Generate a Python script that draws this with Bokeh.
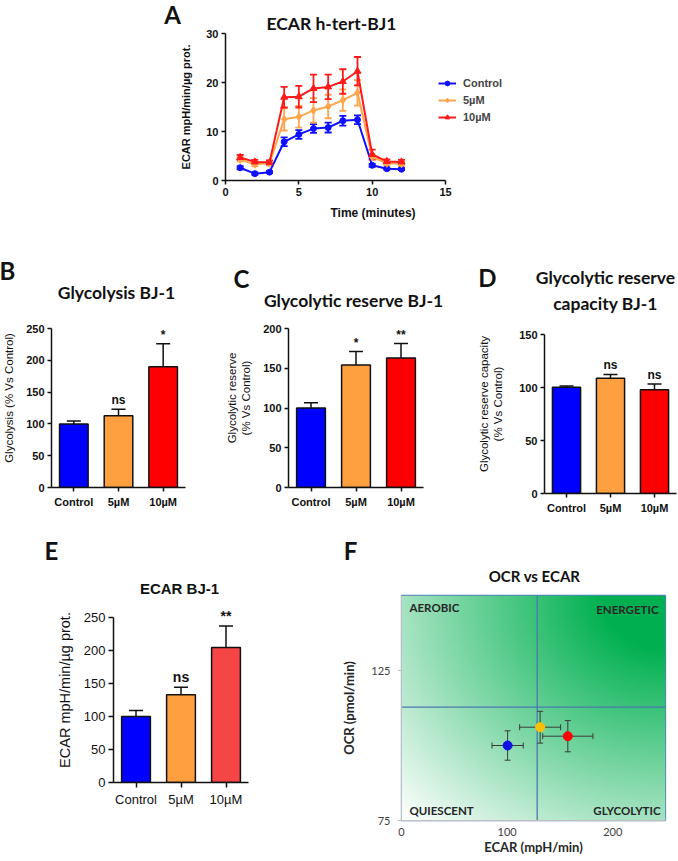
import numpy as np
from bokeh.plotting import figure
from bokeh.models import (Range1d, FactorRange, ColumnDataSource, Whisker, TeeHead,
                          Label, Legend, LegendItem, Span, FixedTicker)
from bokeh.layouts import column, row
from bokeh.embed import file_html
from bokeh.resources import INLINE
from bokeh.core.properties import value

# ---------------- data ----------------
groups = ["Control", "5µM", "10µM"]

# Panel A: ECAR time course (mpH/min/µg prot.)
time_min = [1, 2, 3, 4, 5, 6, 7, 8, 9, 10, 11, 12]
ecar_ctrl = [2.6, 1.4, 1.7, 7.9, 9.4, 10.6, 10.8, 12.2, 12.4, 3.1, 2.4, 2.3]
ecar_ctrl_err = [0.3, 0.2, 0.2, 0.9, 0.9, 0.9, 1.0, 1.0, 0.9, 0.3, 0.2, 0.2]
ecar_5um = [4.3, 3.3, 3.5, 12.5, 13.0, 14.3, 15.1, 16.4, 17.9, 4.8, 3.5, 3.4]
ecar_5um_err = [0.4, 0.4, 0.4, 2.3, 2.2, 2.5, 2.4, 2.2, 2.6, 0.6, 0.4, 0.4]
ecar_10um = [4.7, 3.8, 3.7, 17.0, 17.1, 18.8, 19.1, 20.2, 22.3, 5.3, 3.9, 3.8]
ecar_10um_err = [0.5, 0.4, 0.4, 2.1, 2.2, 2.8, 2.5, 2.5, 2.9, 1.0, 0.4, 0.4]

# Panel B: Glycolysis (% vs control)
glycolysis = [100, 113, 190]
glycolysis_err = [4.5, 10, 36]
glycolysis_sig = ["", "ns", "*"]

# Panel C: Glycolytic reserve (% vs control)
reserve = [100, 154, 163]
reserve_err = [6.5, 17, 18]
reserve_sig = ["", "*", "**"]

# Panel D: Glycolytic reserve capacity (% vs control)
capacity = [100.3, 108.8, 97.8]
capacity_err = [1.0, 3.5, 5.5]
capacity_sig = ["", "ns", "ns"]

# Panel E: ECAR BJ-1
ecar_bar = [100, 133, 204.5]
ecar_bar_err = [9, 11.5, 32.5]
ecar_bar_sig = ["", "ns", "**"]

# Panel F: OCR vs ECAR
f_ecar = [100.5, 131.3, 157.5]
f_ecar_err = [14.8, 19.4, 23.8]
f_ocr = [100.0, 106.1, 103.1]
f_ocr_err = [4.9, 5.3, 5.2]
f_ecar_split = 128.5
f_ocr_split = 112.8

# ---------------- styling ----------------
BAR_COLORS = ["#0000ff", "#ffa040", "#ff0000"]
E_COLORS = ["#0000ff", "#ff9f3f", "#f54545"]
LINE_COLORS = ["#1010ff", "#ffa64d", "#ff1a1a"]
F_COLORS = ["#1010e0", "#ffc000", "#ff0000"]
ARIAL = "Liberation Sans"
CAL = "Lato"
PAGE_W, PAGE_H = 678, 861


def make_fig(w, h, l, r, t, b, xr, yr, **kw):
    p = figure(width=w, height=h, x_range=xr, y_range=yr, output_backend="svg",
               toolbar_location=None, min_border_left=l, min_border_right=r,
               min_border_top=t, min_border_bottom=b, **kw)
    p.outline_line_color = None
    p.grid.visible = False
    p.background_fill_color = None
    p.border_fill_color = None
    return p


def style_axis(ax, font=ARIAL, size="11px", fstyle="bold", color="#111111",
               line_color="#111111", lw=1.5, tick_out=4, standoff=3,
               label_font=ARIAL, label_size="11px", label_style="normal",
               label_standoff=5):
    ax.axis_line_color = line_color
    ax.axis_line_width = lw
    ax.major_tick_line_color = line_color
    ax.major_tick_line_width = lw
    ax.major_tick_in = 0
    ax.major_tick_out = tick_out
    ax.minor_tick_line_color = None
    ax.major_label_text_font = font
    ax.major_label_text_font_size = size
    ax.major_label_text_font_style = fstyle
    ax.major_label_text_color = color
    ax.major_label_standoff = standoff
    ax.axis_label_text_font = label_font
    ax.axis_label_text_font_size = label_size
    ax.axis_label_text_font_style = label_style
    ax.axis_label_text_color = color
    ax.axis_label_standoff = label_standoff


# ---------------- Panel A ----------------
A_X = (225, 445, 520)   # px of x=0, x=15, frame right (room for legend)
A_Y = (33, 180)         # px of y=30 and y=0
a_xmax = 15
a_xend = a_xmax * (A_X[2] - A_X[0]) / (A_X[1] - A_X[0])
pA = make_fig(PAGE_W, 232, A_X[0], PAGE_W - A_X[2], A_Y[0], 232 - A_Y[1],
              Range1d(0, a_xend), Range1d(0, 30))
pA.xaxis.ticker = FixedTicker(ticks=[0, 5, 10, 15])
pA.xaxis.bounds = (0, a_xmax)
pA.yaxis.ticker = FixedTicker(ticks=[0, 10, 20, 30])
pA.xaxis.axis_label = "Time (minutes)"
pA.yaxis.axis_label = "ECAR mpH/min/µg prot."
style_axis(pA.xaxis[0], label_style="bold", label_size="12px", label_standoff=7)
style_axis(pA.yaxis[0], label_style="bold", label_size="11px", label_standoff=11)

series = [(groups[0], ecar_ctrl, ecar_ctrl_err, LINE_COLORS[0], "circle", 6),
          (groups[1], ecar_5um, ecar_5um_err, LINE_COLORS[1], "diamond", 8),
          (groups[2], ecar_10um, ecar_10um_err, LINE_COLORS[2], "triangle", 7)]
items = []
for name, vals, errs, col, mk, sz in series:
    src = ColumnDataSource(dict(t=time_min, v=vals,
                                lo=[a - e for a, e in zip(vals, errs)],
                                hi=[a + e for a, e in zip(vals, errs)]))
    pA.add_layout(Whisker(source=src, base="t", lower="lo", upper="hi",
                          line_color=col, line_width=1.8,
                          upper_head=TeeHead(size=7, line_color=col, line_width=1.8),
                          lower_head=TeeHead(size=7, line_color=col, line_width=1.8)))
    ln = pA.line("t", "v", source=src, line_color=col, line_width=2)
    sc = pA.scatter("t", "v", source=src, marker=mk, size=sz, fill_color=col, line_color=col)
    items.append(LegendItem(label=name, renderers=[ln, sc]))

legA = Legend(items=items, location=(213, 57), label_text_font=ARIAL,
              label_text_font_style="bold", label_text_font_size="11px",
              glyph_width=18, glyph_height=12, spacing=5, padding=0, margin=0,
              border_line_color=None, background_fill_alpha=0, label_standoff=7,
              label_height=12)
pA.add_layout(legA)


# ---------------- bar panels ----------------
def bar_panel(w, h, x0, x1, ytop_px, y0_px, ext, ymax, step, vals, errs, sigs,
              colors, ylabel, tick_size="11px", tick_style="bold", tick_out=4,
              label_size="11.5px", label_standoff=6, sig_size="12px"):
    # x0,x1: frame left/right px; ytop_px/y0_px: px of ymax and 0; ext: extra px above
    k = (y0_px - ytop_px) / ymax
    p = make_fig(w, h, x0, w - x1, ytop_px - ext, h - y0_px,
                 FactorRange(factors=groups), Range1d(0, ymax + ext / k))
    p.yaxis.ticker = FixedTicker(ticks=list(range(0, ymax + 1, step)))
    p.yaxis.bounds = (0, ymax)
    p.yaxis.axis_label = ylabel
    style_axis(p.xaxis[0], size=tick_size, fstyle=tick_style, standoff=4, tick_out=tick_out)
    style_axis(p.yaxis[0], size=tick_size, fstyle=tick_style, tick_out=tick_out,
               label_size=label_size, label_standoff=label_standoff)
    src = ColumnDataSource(dict(g=groups, v=vals,
                                hi=[a + e for a, e in zip(vals, errs)],
                                c=colors, s=sigs))
    p.add_layout(Whisker(source=src, base="g", lower="v", upper="hi",
                         line_color="#111111", line_width=1.5, lower_head=None,
                         upper_head=TeeHead(size=14, line_color="#111111", line_width=1.5)))
    p.vbar(x="g", top="v", width=0.64, source=src, fill_color="c",
           line_color="#111111", line_width=1.5)
    p.text(x="g", y="hi", text="s", source=src, text_align="center",
           text_baseline="bottom", y_offset=-2, text_font=value(ARIAL),
           text_font_style="bold", text_font_size=sig_size, text_color="#111111")
    return p


# row 2 spans y 232..522 (local coords = page - 232)
pB = bar_panel(215, 290, 50, 185, 96, 255, 20, 250, 50, glycolysis, glycolysis_err,
               glycolysis_sig, BAR_COLORS, "Glycolysis (% Vs Control)", label_standoff=8)
pC = bar_panel(225, 290, 73, 208, 96, 255, 20, 200, 50, reserve, reserve_err,
               reserve_sig, BAR_COLORS, "Glycolytic reserve\n(% Vs Control)",
               label_standoff=8)
pD = bar_panel(238, 290, 104, 236, 102, 261, 20, 150, 50, capacity, capacity_err,
               capacity_sig, BAR_COLORS, "Glycolytic reserve capacity\n(% Vs Control)",
               label_standoff=12)
# row 3 spans y 522..861
pE = bar_panel(330, 339, 113, 248, 95, 260, 20, 250, 50, ecar_bar, ecar_bar_err,
               ecar_bar_sig, E_COLORS, "ECAR mpH/min/µg prot.", tick_size="13px",
               tick_style="normal", tick_out=5, label_size="14.5px",
               label_standoff=8, sig_size="14px")

# ---------------- Panel F ----------------
x_lo, x_hi, y_lo, y_hi = 0, 250, 75, 150
pF = make_fig(348, 339, 71, 13, 73, 41, Range1d(x_lo, x_hi), Range1d(y_lo, y_hi))
pF.outline_line_color = "#4f81bd"
pF.outline_line_width = 1.3
pF.xaxis.ticker = FixedTicker(ticks=[0, 100, 200])
pF.yaxis.ticker = FixedTicker(ticks=[75, 125])
pF.xaxis.axis_label = "ECAR (mpH/min)"
pF.yaxis.axis_label = "OCR (pmol/min)"
style_axis(pF.xaxis[0], font=CAL, size="11px", fstyle="normal", color="#404040",
           line_color="#bfbfbf", lw=1, tick_out=0, standoff=7, label_font=CAL,
           label_size="13px", label_style="bold", label_standoff=0)
style_axis(pF.yaxis[0], font=CAL, size="11px", fstyle="normal", color="#404040",
           line_color="#bfbfbf", lw=1, tick_out=4, standoff=7, label_font=CAL,
           label_size="13px", label_style="bold", label_standoff=11)
pF.xaxis.axis_label_text_color = "#262626"
pF.yaxis.axis_label_text_color = "#262626"

nx, ny = 125, 75
u = np.linspace(0, 1, nx)[None, :]
v = np.linspace(0, 1, ny)[:, None]
d = np.sqrt((1 - u) ** 2 + (1 - v) ** 2) / np.sqrt(2)
tt = np.clip(1.2 * (1 - d), 0, 1)
rch = np.round(255 * (1 - tt) + 0 * tt).astype(np.uint32)
gch = np.round(255 * (1 - tt) + 176 * tt).astype(np.uint32)
bch = np.round(255 * (1 - tt) + 80 * tt).astype(np.uint32)
img = (np.uint32(255) << 24) | (bch << 16) | (gch << 8) | rch
pF.image_rgba(image=[img], x=x_lo, y=y_lo, dw=x_hi - x_lo, dh=y_hi - y_lo, level="image")

pF.add_layout(Span(location=f_ecar_split, dimension="height", line_color="#4a78b0",
                   line_width=1.3, level="underlay"))
pF.add_layout(Span(location=f_ocr_split, dimension="width", line_color="#4a78b0",
                   line_width=1.3, level="underlay"))

srcF = ColumnDataSource(dict(x=f_ecar, y=f_ocr,
                             xlo=[a - e for a, e in zip(f_ecar, f_ecar_err)],
                             xhi=[a + e for a, e in zip(f_ecar, f_ecar_err)],
                             ylo=[a - e for a, e in zip(f_ocr, f_ocr_err)],
                             yhi=[a + e for a, e in zip(f_ocr, f_ocr_err)],
                             c=F_COLORS))
for dim, base, lo, hi in (("width", "y", "xlo", "xhi"), ("height", "x", "ylo", "yhi")):
    pF.add_layout(Whisker(source=srcF, base=base, lower=lo, upper=hi, dimension=dim,
                          line_color="#3a3a3a", line_width=1,
                          upper_head=TeeHead(size=6, line_color="#3a3a3a", line_width=1),
                          lower_head=TeeHead(size=6, line_color="#3a3a3a", line_width=1)))
pF.scatter("x", "y", source=srcF, size=9, fill_color="c", line_color="c")

FW, FH = 348 - 71 - 13, 339 - 73 - 41
for txt, sx, sy, al in (("AEROBIC", 8, FH - 12, "left"), ("ENERGETIC", FW - 7, FH - 14, "right"),
                        ("QUIESCENT", 8, 10, "left"), ("GLYCOLYTIC", FW - 5, 10, "right")):
    pF.add_layout(Label(x=sx, y=sy, x_units="screen", y_units="screen", text=txt,
                        text_font=CAL, text_font_size="11.5px", text_font_style="bold",
                        text_color="#262626", text_align=al, text_baseline="middle"))

# ---------------- text overlay (panel letters and titles) ----------------
ov = figure(width=PAGE_W, height=PAGE_H, x_range=Range1d(0, PAGE_W),
            y_range=Range1d(PAGE_H, 0), output_backend="svg", toolbar_location=None,
            x_axis_type=None, y_axis_type=None, min_border=0,
            margin=(0, 0, -PAGE_H, 0))
ov.outline_line_color = None
ov.grid.visible = False
ov.background_fill_color = None
ov.border_fill_color = None

texts = [("A", 172, 14, 24, CAL), ("ECAR  h-tert-BJ1", 333, 23, 17.5, CAL),
         ("B", 7, 270, 24, CAL), ("Glycolysis BJ-1", 116, 292, 17.5, CAL),
         ("C", 241, 278, 24, CAL), ("Glycolytic reserve BJ-1", 353, 300, 17.5, CAL),
         ("D", 487, 277, 24, CAL), ("Glycolytic reserve\ncapacity BJ-1", 605, 290, 17.5, CAL),
         ("E", 51, 550, 24, CAL), ("ECAR BJ-1", 179, 588, 15, ARIAL),
         ("F", 350, 550, 24, CAL), ("OCR vs ECAR", 534, 575, 15, CAL)]
for txt, x, y, size, font in texts:
    ov.add_layout(Label(x=x, y=y, text=txt, text_font=font, text_font_size=f"{size}px",
                        text_font_style="bold", text_color="#111111", text_align="center",
                        text_baseline="middle", text_line_height=1.25))

body = column(column(pA), row(column(pB), column(pC), column(pD)),
              row(column(pE), column(pF)))
layout = column(column(ov), body)
open("out.html", "w").write(file_html(layout, INLINE))
